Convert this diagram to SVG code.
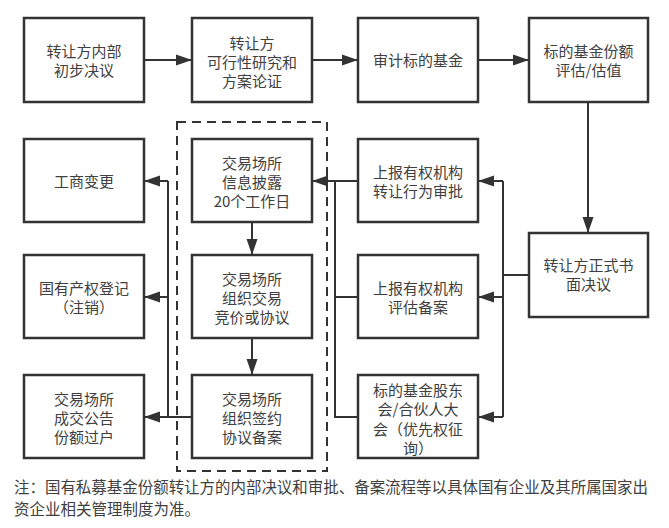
<svg xmlns="http://www.w3.org/2000/svg" width="669" height="528" viewBox="0 0 669 528">
<style>
.box{fill:#fff;stroke:#333;stroke-width:2.5}
.t{font-family:"Noto Sans CJK SC","Noto Sans",sans-serif;font-size:15px;fill:#404040;text-anchor:middle}
.n{font-family:"Noto Sans CJK SC","Noto Sans",sans-serif;font-size:15.5px;fill:#404040}
.ln{fill:none;stroke:#333;stroke-width:2}
</style>
<defs>
<marker id="ah" markerUnits="userSpaceOnUse" markerWidth="16" markerHeight="12" refX="16" refY="6" orient="auto">
<path d="M0,0.5 L16,6 L0,11.5 z" fill="#333"/>
</marker>
</defs>
<rect width="669" height="528" fill="#fff"/>
<rect x="177" y="122" width="150" height="349" fill="none" stroke="#333" stroke-width="2" stroke-dasharray="9,6"/>
<g id="connectors">
<line class="ln" x1="144" y1="60" x2="192" y2="60" marker-end="url(#ah)"/>
<line class="ln" x1="312" y1="60" x2="358" y2="60" marker-end="url(#ah)"/>
<line class="ln" x1="478" y1="60" x2="529" y2="60" marker-end="url(#ah)"/>
<line class="ln" x1="588" y1="102" x2="588" y2="233" marker-end="url(#ah)"/>
<polyline class="ln" points="529,275 503,275"/>
<polyline class="ln" points="503,181 503,417"/>
<line class="ln" x1="503" y1="181" x2="478" y2="181" marker-end="url(#ah)"/>
<line class="ln" x1="503" y1="297" x2="478" y2="297" marker-end="url(#ah)"/>
<line class="ln" x1="503" y1="417" x2="478" y2="417" marker-end="url(#ah)"/>
<polyline class="ln" points="358,181 335,181 335,417 358,417"/>
<line class="ln" x1="335" y1="297" x2="358" y2="297"/>
<line class="ln" x1="335" y1="181" x2="312" y2="181" marker-end="url(#ah)"/>
<line class="ln" x1="252" y1="222" x2="252" y2="255" marker-end="url(#ah)"/>
<line class="ln" x1="252" y1="338" x2="252" y2="375" marker-end="url(#ah)"/>
<line class="ln" x1="192" y1="417" x2="144" y2="417" marker-end="url(#ah)"/>
<polyline class="ln" points="168,417 168,181"/>
<line class="ln" x1="168" y1="181" x2="144" y2="181" marker-end="url(#ah)"/>
<line class="ln" x1="168" y1="297" x2="144" y2="297" marker-end="url(#ah)"/>
</g>
<g id="n1"><rect class="box" x="24" y="18" width="120" height="84"/>
<text class="t" x="84" y="57">转让方内部</text><text class="t" x="84" y="76">初步决议</text></g>
<g id="n2"><rect class="box" x="192" y="18" width="120" height="84"/>
<text class="t" x="252" y="48.5">转让方</text><text class="t" x="252" y="67.5">可行性研究和</text><text class="t" x="252" y="86.5">方案论证</text></g>
<g id="n3"><rect class="box" x="358" y="18" width="120" height="84"/>
<text class="t" x="418" y="66">审计标的基金</text></g>
<g id="n4"><rect class="box" x="529" y="18" width="119" height="84"/>
<text class="t" x="588.5" y="57">标的基金份额</text><text class="t" x="588.5" y="76">评估/估值</text></g>
<g id="n5"><rect class="box" x="529" y="233" width="119" height="84"/>
<text class="t" x="588.5" y="271">转让方正式书</text><text class="t" x="588.5" y="290">面决议</text></g>
<g id="n6"><rect class="box" x="358" y="139" width="120" height="83"/>
<text class="t" x="418" y="178">上报有权机构</text><text class="t" x="418" y="197">转让行为审批</text></g>
<g id="n7"><rect class="box" x="358" y="255" width="120" height="83"/>
<text class="t" x="418" y="294">上报有权机构</text><text class="t" x="418" y="313">评估备案</text></g>
<g id="n8"><rect class="box" x="358" y="375" width="120" height="83"/>
<text class="t" x="418" y="395.5">标的基金股东</text><text class="t" x="418" y="415">会/合伙人大</text><text class="t" x="418" y="434.5">会（优先权征</text><text class="t" x="418" y="454">询）</text></g>
<g id="n9"><rect class="box" x="192" y="139" width="120" height="83"/>
<text class="t" x="252" y="168.5">交易场所</text><text class="t" x="252" y="187.5">信息披露</text><text class="t" x="252" y="206.5">20个工作日</text></g>
<g id="n10"><rect class="box" x="192" y="255" width="120" height="83"/>
<text class="t" x="252" y="284.5">交易场所</text><text class="t" x="252" y="303.5">组织交易</text><text class="t" x="252" y="322.5">竞价或协议</text></g>
<g id="n11"><rect class="box" x="192" y="375" width="120" height="83"/>
<text class="t" x="252" y="404.5">交易场所</text><text class="t" x="252" y="423.5">组织签约</text><text class="t" x="252" y="442.5">协议备案</text></g>
<g id="n12"><rect class="box" x="24" y="139" width="120" height="83"/>
<text class="t" x="84" y="187">工商变更</text></g>
<g id="n13"><rect class="box" x="24" y="255" width="120" height="83"/>
<text class="t" x="84" y="294">国有产权登记</text><text class="t" x="84" y="313">（注销）</text></g>
<g id="n14"><rect class="box" x="24" y="375" width="120" height="83"/>
<text class="t" x="84" y="404.5">交易场所</text><text class="t" x="84" y="423.5">成交公告</text><text class="t" x="84" y="442.5">份额过户</text></g>
<text class="n" x="14" y="493" textLength="634" lengthAdjust="spacingAndGlyphs">注：国有私募基金份额转让方的内部决议和审批、备案流程等以具体国有企业及其所属国家出</text>
<text class="n" x="14" y="515">资企业相关管理制度为准。</text>
</svg>
